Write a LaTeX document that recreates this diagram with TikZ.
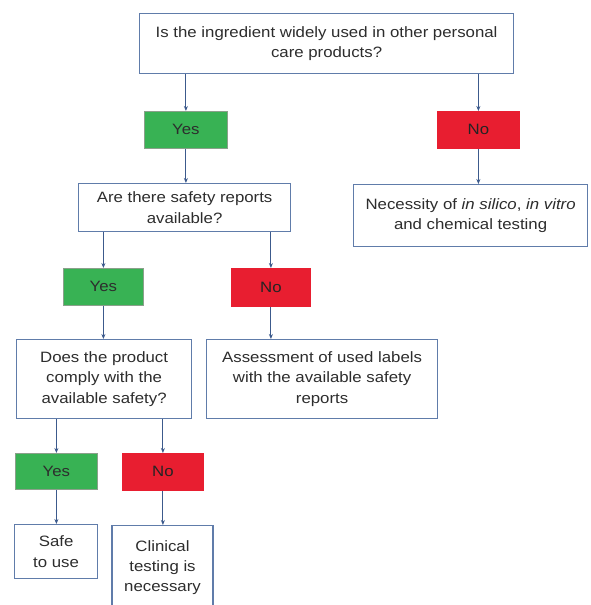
\documentclass[tikz,border=0pt]{standalone}
\usepackage{fontspec}
\setmainfont{Liberation Sans}[FakeStretch=1.12]
\usetikzlibrary{arrows.meta}
\definecolor{bordc}{RGB}{96,124,170}
\definecolor{arrc}{RGB}{60,90,140}
\definecolor{txtc}{RGB}{45,45,45}
\definecolor{yesg}{RGB}{56,178,84}
\definecolor{yesb}{RGB}{90,120,90}
\definecolor{nor}{RGB}{232,30,48}
\tikzset{
  box/.style={draw=bordc, line width=1.2pt, fill=white, text=txtc, align=center,
    font=\fontsize{15}{20.5}\selectfont, inner sep=0pt, anchor=north west},
  yesbox/.style={draw=yesb!70, line width=0.8pt, fill=yesg, text=txtc,
    font=\fontsize{15}{17}\selectfont, inner sep=0pt, anchor=north west},
  nobox/.style={draw=nor, line width=0.8pt, fill=nor, text=txtc!80!black,
    font=\fontsize{15}{17}\selectfont, inner sep=0pt, anchor=north west},
  conn/.style={draw=arrc, line width=0.9pt, -{Stealth[length=5pt,width=4pt]}}
}
\begin{document}
\begin{tikzpicture}[x=1pt,y=-1pt]
\clip (0,0) rectangle (590,605);
\fill[white] (0,0) rectangle (590,605);
% boxes (positions in px of the reference)
\node[box, minimum width=374pt, minimum height=60pt] (top) at (139,13)
  {Is the ingredient widely used in other personal\\care products?};
\node[yesbox, minimum width=83pt, minimum height=37pt] (yes1) at (144,111) {Yes};
\node[nobox, minimum width=82pt, minimum height=37pt] (no1) at (437,111) {No};
\node[box, minimum width=234pt, minimum height=62pt] (nec) at (353,184)
  {Necessity of \textit{in silico}, \textit{in vitro}\\and chemical testing};
\node[box, minimum width=212pt, minimum height=48pt] (q2) at (78,183)
  {Are there safety reports\\available?};
\node[yesbox, minimum width=80pt, minimum height=37pt] (yes2) at (63,268) {Yes};
\node[nobox, minimum width=79pt, minimum height=38pt] (no2) at (231,268) {No};
\node[box, minimum width=175pt, minimum height=79pt] (q3) at (16,339)
  {Does the product\\comply with the\\available safety?};
\node[box, minimum width=231pt, minimum height=79pt] (ass) at (206,339)
  {Assessment of used labels\\with the available safety\\reports};
\node[yesbox, minimum width=82pt, minimum height=36pt] (yes3) at (15,453) {Yes};
\node[nobox, minimum width=81pt, minimum height=37pt] (no3) at (122,453) {No};
\node[box, minimum width=83pt, minimum height=54pt] (safe) at (14,524)
  {Safe\\to use};
\node[box, minimum width=101pt, minimum height=95pt, anchor=north] (clin) at (162.5,525)
  {};
\node[text=txtc, align=center, font=\fontsize{15}{20}\selectfont, anchor=north]
  (clintxt) at (162.5,537) {Clinical\\testing is\\necessary};
% connectors
\draw[conn] (top.south -| yes1.north) -- (yes1.north);
\draw[conn] (top.south -| no1.north) -- (no1.north);
\draw[conn] (no1.south) -- (no1.south |- nec.north);
\draw[conn] (yes1.south) -- (yes1.south |- q2.north);
\draw[conn] (q2.south -| yes2.north) -- (yes2.north);
\draw[conn] (q2.south -| no2.north) -- (no2.north);
\draw[conn] (yes2.south) -- (yes2.south |- q3.north);
\draw[conn] (no2.south) -- (no2.south |- ass.north);
\draw[conn] (q3.south -| yes3.north) -- (yes3.north);
\draw[conn] (q3.south -| no3.north) -- (no3.north);
\draw[conn] (yes3.south) -- (yes3.south |- safe.north);
\draw[conn] (no3.south) -- (no3.south |- clin.north);
\end{tikzpicture}
\end{document}
